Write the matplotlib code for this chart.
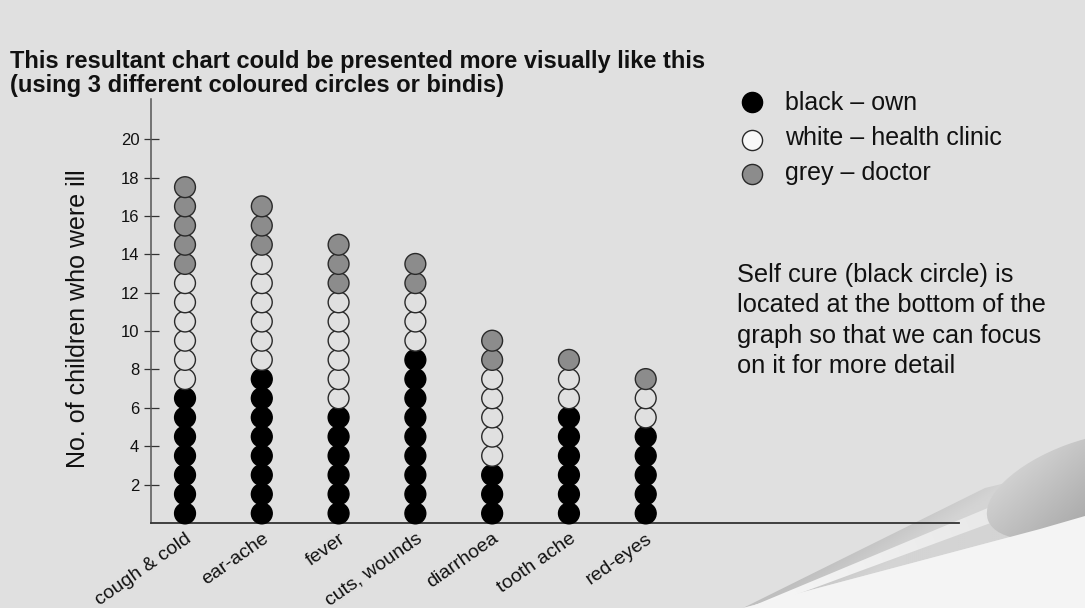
import numpy as np
import matplotlib
matplotlib.use("Agg")
import matplotlib.pyplot as plt
from matplotlib.patches import Polygon, Ellipse
from matplotlib.colors import to_rgb

# Illnesses and how each child was treated (one circle per child)
categories = ["cough & cold", "ear-ache", "fever", "cuts, wounds",
              "diarrhoea", "tooth ache", "red-eyes"]
own = [7, 8, 6, 9, 3, 6, 5]          # black: treated at home
clinic = [6, 6, 6, 3, 5, 2, 2]       # white: health clinic
doctor = [5, 3, 3, 2, 2, 1, 1]       # grey: doctor
y_ticks = [2, 4, 6, 8, 10, 12, 14, 16, 18, 20]

legend_labels = ["black \u2013 own", "white \u2013 health clinic", "grey \u2013 doctor"]
title_lines = ["This resultant chart could be presented more visually like this",
               "(using 3 different coloured circles or bindis)"]
note_lines = ["Self cure (black circle) is",
              "located at the bottom of the",
              "graph so that we can focus",
              "on it for more detail"]

BG = "#e0e0e0"
C_OWN, C_CLINIC, C_DOCTOR = "#000000", BG, "#8c8c8c"
EDGE = "#2a2a2a"

plt.rcParams['font.family'] = ['Liberation Sans', 'DejaVu Sans']

W, H = 1085, 608
fig = plt.figure(figsize=(W / 100, H / 100), dpi=100, facecolor=BG)

# ---- decorative page curl in the lower right corner (pixel coordinates) ----
deco = fig.add_axes([0, 0, 1, 1], zorder=0)
deco.set_axis_off()


def gradient_fill(axd, patch, c0, c1, p0, p1):
    axd.add_patch(patch)
    patch.set_facecolor('none')
    patch.set_edgecolor('none')
    xs = np.linspace(0, W, 543)
    ys = np.linspace(0, H, 304)
    X, Y = np.meshgrid(xs, ys)
    d = np.array(p1, float) - np.array(p0, float)
    t = ((X - p0[0]) * d[0] + (Y - p0[1]) * d[1]) / (d @ d)
    t = np.clip(t, 0, 1)[..., None]
    a, b = np.array(to_rgb(c0)), np.array(to_rgb(c1))
    img = a + (b - a) * t
    im = axd.imshow(img, extent=(0, W, H, 0), origin='upper',
                    interpolation='bilinear', aspect='auto')
    im.set_clip_path(patch)


# lighter page showing under the curl
deco.add_patch(Polygon([(743, 608), (1085, 608), (1085, 516), (1040, 529)],
                       closed=True, facecolor="#f4f4f4", edgecolor='none'))
# curled strip
gradient_fill(deco, Polygon([(743, 608), (985, 488), (1010, 482), (1040, 529)], closed=True),
              "#bfbfbf", "#d4d4d4", (860, 540), (880, 570))
gradient_fill(deco, Polygon([(755, 605), (995, 505), (1015, 514), (768, 605)], closed=True),
              "#f6f6f6", "#e8e8e8", (760, 600), (1000, 505))
# rolled-up tip
gradient_fill(deco, Ellipse((1082, 486), 200, 88, angle=-20),
              "#d8d8d8", "#aaaaaa", (1010, 455), (1080, 530))
deco.set_xlim(0, W)
deco.set_ylim(H, 0)

# ---- main chart ----
y_top = 22.1
ax_top_px = 523 - 19.19 * y_top
ax = fig.add_axes([151 / W, (H - 523) / H, (959 - 151) / W, (523 - ax_top_px) / H], zorder=2)
ax.set_facecolor('none')
ax.set_xlim(-0.443, 10.08)
ax.set_ylim(0, y_top)

for i, (o, c, d) in enumerate(zip(own, clinic, doctor)):
    total = o + c + d
    ys = np.arange(total) + 0.5
    faces = [C_OWN] * o + [C_CLINIC] * c + [C_DOCTOR] * d
    edges = ["#000000"] * o + [EDGE] * (c + d)
    ax.scatter(np.full(total, i), ys, s=15.0 ** 2, c=faces, edgecolors=edges,
               linewidths=1.0, zorder=3, clip_on=False)

for side in ("top", "right"):
    ax.spines[side].set_visible(False)
ax.spines["left"].set_color("#555555")
ax.spines["left"].set_linewidth(1.1)
ax.spines["bottom"].set_color("#333333")
ax.spines["bottom"].set_linewidth(1.3)

ax.set_yticks(y_ticks)
ax.set_yticklabels([str(v) for v in y_ticks])
ax.tick_params(axis='y', direction='inout', length=10.8, width=0.9, color="#333333",
               labelsize=12, pad=3, labelcolor="#111111")
ax.set_xticks(range(len(categories)))
ax.set_xticklabels(categories, rotation=35, ha='right', rotation_mode='anchor',
                   fontsize=14, color="#111111")
ax.tick_params(axis='x', length=0, pad=5)

fig.text(78 / W, 1 - 319 / H, "No. of children who were ill", rotation=90,
         ha='center', va='center', fontsize=18, color="#111111")

# ---- title ----
for k, line in enumerate(title_lines):
    fig.text(10 / W, 1 - (68 + 24 * k) / H, line, ha='left', va='baseline',
             fontsize=17, fontweight='bold', color="#111111")

# ---- key ----
key_faces = [C_OWN, "#f8f8f8", C_DOCTOR]
key_edges = ["#000000", EDGE, EDGE]
key_y = [102, 140, 174]
for yk, fc, ec in zip(key_y, key_faces, key_edges):
    deco.scatter([752], [yk], s=14.5 ** 2, c=[fc], edgecolors=[ec], linewidths=1.0,
                 zorder=3, clip_on=False)
for k, lab in enumerate(legend_labels):
    fig.text(785 / W, 1 - (109.5 + 35.3 * k) / H, lab, ha='left', va='baseline',
             fontsize=18, color="#111111")

# ---- note ----
for k, line in enumerate(note_lines):
    fig.text(737 / W, 1 - (281.5 + 30.5 * k) / H, line, ha='left', va='baseline',
             fontsize=18.3, color="#111111")

fig.savefig("out.png", dpi=100, facecolor=BG)
